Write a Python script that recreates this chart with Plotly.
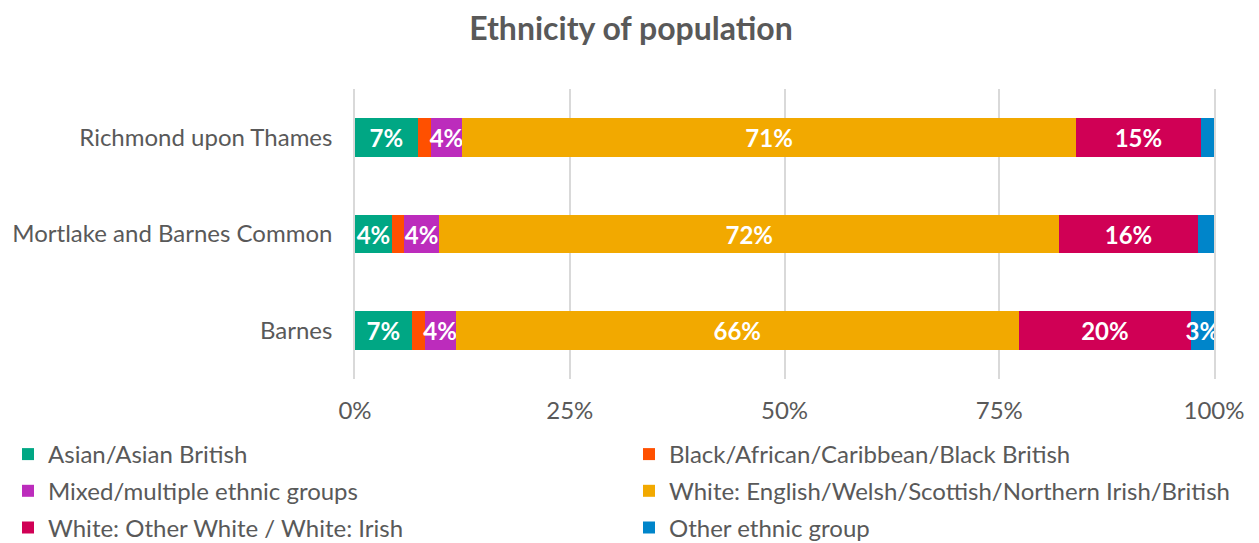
import plotly.graph_objects as go

areas = ["Barnes", "Mortlake and Barnes Common", "Richmond upon Thames"]
groups = [
    "Asian/Asian British",
    "Black/African/Caribbean/Black British",
    "Mixed/multiple ethnic groups",
    "White: English/Welsh/Scottish/Northern Irish/British",
    "White: Other White / White: Irish",
    "Other ethnic group",
]
# values per group, in order of areas (Barnes, Mortlake, Richmond), percent
asian = [6.6, 4.3, 7.3]
black = [1.5, 1.4, 1.5]
mixed = [3.6, 4.1, 3.7]
white_british = [65.6, 72.2, 71.4]
white_other = [20.0, 16.1, 14.6]
other = [2.7, 1.9, 1.5]
series = [asian, black, mixed, white_british, white_other, other]
colors = ["#00A784", "#FF5000", "#BC2CBC", "#F2A900", "#D00055", "#0085CA"]
legend_ids = ["legend", "legend2", "legend", "legend2", "legend", "legend2"]
x_ticks = [0, 25, 50, 75, 100]

FONT = "Lato, 'Open Sans', sans-serif"
GREY = "#595959"
W, H = 1251, 535  # page body adds an 8px offset

fig = go.Figure()
for i, (name, vals, col, lg) in enumerate(zip(groups, series, colors, legend_ids)):
    labels = [f"{round(v)}%" if v >= 2.5 else "" for v in vals]
    fig.add_trace(go.Bar(
        y=areas, x=vals, name=name, orientation="h",
        marker=dict(color=col, line=dict(width=0)),
        text=labels, textposition="inside", insidetextanchor="middle", textangle=0,
        textfont=dict(family=FONT, size=24, color="white", weight="bold"),
        hoverinfo="x+name", legend=lg, legendgroup=f"g{i}",
    ))

legend_common = dict(
    orientation="v", xref="container", xanchor="left", yref="container", yanchor="top",
    font=dict(family=FONT, size=24, color=GREY), itemwidth=30,
    traceorder="grouped", tracegroupgap=2.5, bgcolor="rgba(0,0,0,0)",
)

fig.update_layout(
    barmode="stack",
    bargap=0.6,
    width=W, height=H,
    margin=dict(l=346.5, r=45, t=80.5, b=163.5, autoexpand=False),
    paper_bgcolor="white", plot_bgcolor="white",
    font=dict(family=FONT, color=GREY, size=24),
    uniformtext=dict(minsize=24, mode="show"),
    title=dict(text="<b>Ethnicity of population</b>", x=623 / W, xanchor="center",
               xref="container", y=1 - 21 / H, yref="container", yanchor="middle",
               font=dict(family=FONT, size=32, color=GREY)),
    xaxis=dict(range=[0, 100], tickvals=x_ticks, ticktext=[f"{t}%" for t in x_ticks],
               showgrid=True, gridcolor="#D9D9D9", gridwidth=1.5, zeroline=False,
               showline=False, ticks="", ticklabelstandoff=15, automargin=False,
               tickfont=dict(family=FONT, size=24, color=GREY), fixedrange=True),
    yaxis=dict(showgrid=False, zeroline=False, showline=True, mirror=True,
               linecolor="#D9D9D9", linewidth=1.5, ticks="", automargin=False,
               ticklabelstandoff=16, tickfont=dict(family=FONT, size=24, color=GREY)),
    legend=dict(x=0, y=1 - 424 / H, **legend_common),
    legend2=dict(x=621 / W, y=1 - 424 / H, **legend_common),
    showlegend=True,
)

fig.write_html("out.html")
